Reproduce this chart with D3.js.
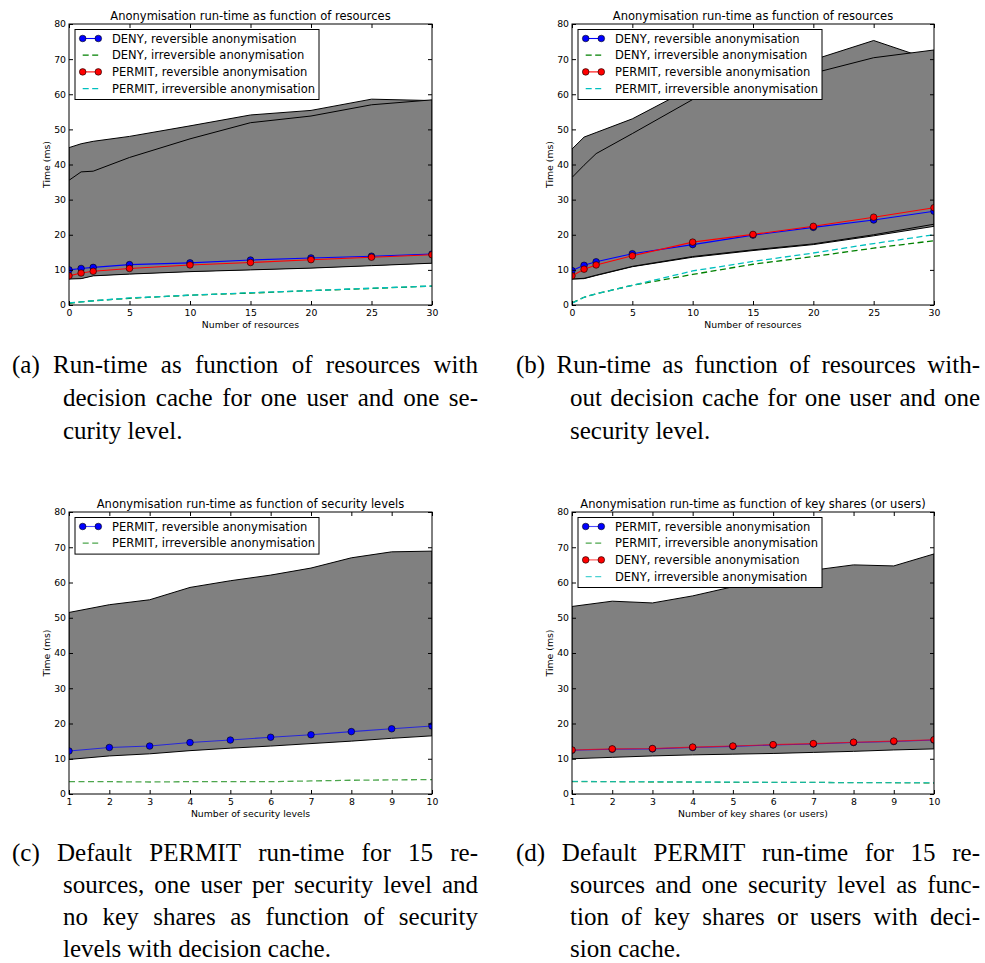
<!DOCTYPE html>
<html lang="en">
<head>
<meta charset="UTF-8">
<title>Anonymisation run-time</title>
<script src="https://d3js.org/d3.v7.min.js"></script>
<style>
  body { margin: 0; background: #fff; }
  svg { display: block; background: #fff; }
</style>
</head>
<body>
<svg id="fig" width="985" height="963"></svg>
<script>
// x values and ticks
const resources = [0, 1, 2, 5, 10, 15, 20, 25, 30];
const levels = [1, 2, 3, 4, 5, 6, 7, 8, 9, 10];
const resTicks = [0, 5, 10, 15, 20, 25, 30];
const levelTicks = [1, 2, 3, 4, 5, 6, 7, 8, 9, 10];
const yTicks = [0, 10, 20, 30, 40, 50, 60, 70, 80];

// (a) with decision cache
const aDenyRev = [10.0, 10.4, 10.7, 11.5, 12.0, 12.8, 13.4, 13.9, 14.5];
const aDenyIrr = [0.5, 0.9, 1.2, 1.9, 2.8, 3.4, 4.1, 4.7, 5.4];
const aPermitRev = [8.3, 9.1, 9.6, 10.4, 11.4, 12.1, 12.9, 13.6, 14.3];
const aPermitIrr = [0.6, 0.9, 1.2, 2.0, 2.8, 3.5, 4.1, 4.8, 5.4];
const aBand1Low = [7.5, 7.6, 8.4, 8.9, 9.6, 10.1, 10.6, 11.3, 12.0];
const aBand1High = [44.8, 45.9, 46.6, 48.0, 51.0, 54.1, 55.4, 58.6, 58.2];
const aBand2Low = [7.4, 7.5, 8.3, 8.8, 9.5, 10.0, 10.5, 11.2, 11.9];
const aBand2High = [35.5, 37.9, 38.1, 42.0, 47.3, 51.9, 53.8, 57.0, 58.4];

// (b) without decision cache
const bDenyRev = [9.8, 11.3, 12.3, 14.6, 17.2, 19.9, 22.1, 24.2, 26.7];
const bDenyIrr = [0.6, 2.2, 3.2, 5.6, 8.7, 11.6, 13.8, 16.2, 18.3];
const bPermitRev = [8.3, 10.2, 11.4, 14.0, 17.9, 20.1, 22.4, 25.0, 27.7];
const bPermitIrr = [0.5, 2.2, 3.2, 5.6, 9.7, 12.4, 14.8, 17.5, 20.0];
const bBand1Low = [7.4, 7.5, 8.4, 10.9, 13.6, 15.5, 17.2, 19.7, 22.4];
const bBand1High = [44.4, 47.8, 49.1, 53.0, 62.0, 66.0, 69.8, 75.3, 69.5];
const bBand2Low = [7.4, 7.6, 8.5, 11.0, 13.8, 15.7, 17.4, 20.0, 23.0];
const bBand2High = [36.3, 39.8, 43.1, 48.8, 58.5, 62.5, 66.0, 70.4, 72.6];

// (c) security levels
const cPermitRev = [12.2, 13.2, 13.6, 14.6, 15.3, 16.1, 16.8, 17.7, 18.5, 19.3];
const cPermitIrr = [3.5, 3.5, 3.4, 3.5, 3.5, 3.5, 3.7, 3.9, 4.0, 4.1];
const cBandLow = [9.8, 10.8, 11.4, 12.3, 13.0, 13.6, 14.3, 15.0, 15.8, 16.5];
const cBandHigh = [51.5, 53.7, 55.1, 58.6, 60.5, 62.1, 64.1, 67.0, 68.7, 68.9];

// (d) key shares
const dPermitRev = [12.4, 12.7, 12.8, 13.2, 13.5, 13.9, 14.2, 14.6, 14.9, 15.3];
const dPermitIrr = [3.5, 3.5, 3.4, 3.4, 3.3, 3.3, 3.3, 3.2, 3.2, 3.1];
const dDenyRev = [12.5, 12.8, 12.9, 13.3, 13.6, 14.0, 14.3, 14.7, 15.0, 15.4];
const dDenyIrr = [3.6, 3.5, 3.5, 3.4, 3.4, 3.3, 3.3, 3.2, 3.2, 3.2];
const dBandLow = [10.0, 10.4, 10.8, 11.1, 11.3, 11.5, 11.8, 12.1, 12.5, 12.8];
const dBandHigh = [53.2, 54.7, 54.2, 56.2, 58.8, 61.0, 63.5, 65.0, 64.7, 68.1];

// captions
const capA = ['(a) Run-time as function of resources with', 'decision cache for one user and one se-', 'curity level.'];
const capB = ['(b) Run-time as function of resources with-', 'out decision cache for one user and one', 'security level.'];
const capC = ['(c) Default PERMIT run-time for 15 re-', 'sources, one user per security level and', 'no key shares as function of security', 'levels with decision cache.'];
const capD = ['(d) Default PERMIT run-time for 15 re-', 'sources and one security level as func-', 'tion of key shares or users with deci-', 'sion cache.'];

const sans = '"DejaVu Sans", sans-serif';
const serif = '"Liberation Serif", "Times New Roman", serif';
const BLUE = '#0000ff', RED = '#ff0000', GREEN = '#008000', CYAN = '#00bfbf';

const svg = d3.select('#fig');

function panel(cfg) {
    const g = svg.append('g');
    const x = d3.scaleLinear().domain(cfg.xDomain).range([cfg.left, cfg.right]);
    const y = d3.scaleLinear().domain([0, 80]).range([cfg.bottom, cfg.top]);

    svg.append('clipPath').attr('id', 'clip-' + cfg.id)
        .append('rect')
        .attr('x', cfg.left).attr('y', cfg.top)
        .attr('width', cfg.right - cfg.left).attr('height', cfg.bottom - cfg.top);

    const plot = g.append('g').attr('clip-path', `url(#clip-${cfg.id})`);

    // grey envelopes with black edges
    cfg.bands.forEach(b => {
        const area = d3.area()
            .x((d, i) => x(cfg.xs[i]))
            .y0((d, i) => y(b.low[i]))
            .y1((d, i) => y(b.high[i]));
        plot.append('path').datum(b.low)
            .attr('d', area)
            .attr('fill', '#808080')
            .attr('stroke', '#000')
            .attr('stroke-width', 1);
    });

    // series
    cfg.series.forEach(s => {
        const line = d3.line().x((d, i) => x(cfg.xs[i])).y(d => y(d));
        plot.append('path').datum(s.values)
            .attr('d', line)
            .attr('fill', 'none')
            .attr('stroke', s.color)
            .attr('stroke-width', s.dash ? 1.3 : 1.1)
            .attr('stroke-dasharray', s.dash ? '6,3.5' : null)
            .attr('stroke-opacity', cfg.alpha);
        if (s.marker) {
            plot.selectAll(null).data(s.values).enter().append('circle')
                .attr('cx', (d, i) => x(cfg.xs[i]))
                .attr('cy', d => y(d))
                .attr('r', 3.3)
                .attr('fill', s.color)
                .attr('stroke', '#000')
                .attr('stroke-width', 0.6);
        }
    });

    // frame
    g.append('rect')
        .attr('x', cfg.left).attr('y', cfg.top)
        .attr('width', cfg.right - cfg.left).attr('height', cfg.bottom - cfg.top)
        .attr('fill', 'none').attr('stroke', '#000').attr('stroke-width', 1);

    // axes, ticks pointing inwards on all four sides
    const styleAxis = sel => {
        sel.select('.domain').remove();
        sel.selectAll('.tick line').attr('stroke', '#000');
        sel.selectAll('text').attr('font-family', sans).attr('font-size', 9.3).attr('fill', '#000');
    };
    g.append('g').attr('transform', `translate(0,${cfg.bottom})`)
        .call(d3.axisBottom(x).tickValues(cfg.xTicks).tickSizeInner(-4).tickSizeOuter(0).tickPadding(4.7))
        .call(styleAxis);
    g.append('g').attr('transform', `translate(0,${cfg.top})`)
        .call(d3.axisTop(x).tickValues(cfg.xTicks).tickSizeInner(-4).tickSizeOuter(0).tickFormat(''))
        .call(styleAxis);
    g.append('g').attr('transform', `translate(${cfg.left},0)`)
        .call(d3.axisLeft(y).tickValues(yTicks).tickSizeInner(-4).tickSizeOuter(0).tickPadding(3))
        .call(styleAxis);
    g.append('g').attr('transform', `translate(${cfg.right},0)`)
        .call(d3.axisRight(y).tickValues(yTicks).tickSizeInner(-4).tickSizeOuter(0).tickFormat(''))
        .call(styleAxis);

    // title and axis labels
    g.append('text')
        .attr('x', (cfg.left + cfg.right) / 2).attr('y', cfg.top - 4.5)
        .attr('text-anchor', 'middle')
        .attr('font-family', sans).attr('font-size', 11.5)
        .text(cfg.title);
    g.append('text')
        .attr('x', (cfg.left + cfg.right) / 2).attr('y', cfg.bottom + 22.5)
        .attr('text-anchor', 'middle')
        .attr('font-family', sans).attr('font-size', 9.3)
        .text(cfg.xlabel);
    g.append('text')
        .attr('transform', `translate(${cfg.left - 19},${(cfg.top + cfg.bottom) / 2}) rotate(-90)`)
        .attr('text-anchor', 'middle')
        .attr('font-family', sans).attr('font-size', 9.3)
        .text('Time (ms)');

    // legend
    const lx = cfg.left + 6, ly = cfg.top + 5.5;
    const n = cfg.series.length;
    const leg = g.append('g');
    leg.append('rect')
        .attr('x', lx).attr('y', ly)
        .attr('width', 244).attr('height', 9 + (n - 1) * 16.7 + 10.9)
        .attr('fill', '#fff').attr('stroke', '#000').attr('stroke-width', 1);
    cfg.series.forEach((s, i) => {
        const ry = ly + 9 + i * 16.7;
        leg.append('line')
            .attr('x1', lx + 7.7).attr('x2', lx + 23.3)
            .attr('y1', ry).attr('y2', ry)
            .attr('stroke', s.color)
            .attr('stroke-width', s.dash ? 1.3 : 1.1)
            .attr('stroke-dasharray', s.dash ? '6,3.5' : null)
            .attr('stroke-opacity', cfg.alpha);
        if (s.marker) {
            [lx + 7.7, lx + 23.3].forEach(cx => {
                leg.append('circle').attr('cx', cx).attr('cy', ry).attr('r', 3.3)
                    .attr('fill', s.color).attr('stroke', '#000').attr('stroke-width', 0.6);
            });
        }
        leg.append('text')
            .attr('x', lx + 37).attr('y', ry + 4)
            .attr('font-family', sans).attr('font-size', 11.5)
            .text(s.label);
    });
}

panel({
    id: 'a', left: 69, right: 432, top: 24, bottom: 305, alpha: 1,
    xs: resources, xDomain: [0, 30], xTicks: resTicks,
    title: 'Anonymisation run-time as function of resources',
    xlabel: 'Number of resources',
    bands: [{ low: aBand1Low, high: aBand1High }, { low: aBand2Low, high: aBand2High }],
    series: [
        { label: 'DENY, reversible anonymisation', values: aDenyRev, color: BLUE, marker: true },
        { label: 'DENY, irreversible anonymisation', values: aDenyIrr, color: GREEN, dash: true },
        { label: 'PERMIT, reversible anonymisation', values: aPermitRev, color: RED, marker: true },
        { label: 'PERMIT, irreversible anonymisation', values: aPermitIrr, color: CYAN, dash: true }
    ]
});

panel({
    id: 'b', left: 572, right: 934, top: 24, bottom: 305, alpha: 1,
    xs: resources, xDomain: [0, 30], xTicks: resTicks,
    title: 'Anonymisation run-time as function of resources',
    xlabel: 'Number of resources',
    bands: [{ low: bBand1Low, high: bBand1High }, { low: bBand2Low, high: bBand2High }],
    series: [
        { label: 'DENY, reversible anonymisation', values: bDenyRev, color: BLUE, marker: true },
        { label: 'DENY, irreversible anonymisation', values: bDenyIrr, color: GREEN, dash: true },
        { label: 'PERMIT, reversible anonymisation', values: bPermitRev, color: RED, marker: true },
        { label: 'PERMIT, irreversible anonymisation', values: bPermitIrr, color: CYAN, dash: true }
    ]
});

panel({
    id: 'c', left: 69, right: 432, top: 512, bottom: 794, alpha: 0.7,
    xs: levels, xDomain: [1, 10], xTicks: levelTicks,
    title: 'Anonymisation run-time as function of security levels',
    xlabel: 'Number of security levels',
    bands: [{ low: cBandLow, high: cBandHigh }],
    series: [
        { label: 'PERMIT, reversible anonymisation', values: cPermitRev, color: BLUE, marker: true },
        { label: 'PERMIT, irreversible anonymisation', values: cPermitIrr, color: GREEN, dash: true }
    ]
});

panel({
    id: 'd', left: 572, right: 934, top: 512, bottom: 794, alpha: 0.7,
    xs: levels, xDomain: [1, 10], xTicks: levelTicks,
    title: 'Anonymisation run-time as function of key shares (or users)',
    xlabel: 'Number of key shares (or users)',
    bands: [{ low: dBandLow, high: dBandHigh }],
    series: [
        { label: 'PERMIT, reversible anonymisation', values: dPermitRev, color: BLUE, marker: true },
        { label: 'PERMIT, irreversible anonymisation', values: dPermitIrr, color: GREEN, dash: true },
        { label: 'DENY, reversible anonymisation', values: dDenyRev, color: RED, marker: true },
        { label: 'DENY, irreversible anonymisation', values: dDenyIrr, color: CYAN, dash: true }
    ]
});

// captions: justified lines, word gaps stretched to fill the column
function caption(lines, x0, indent, x1, y0, lh) {
    const g = svg.append('g').attr('font-family', serif).attr('font-size', 25).attr('fill', '#000');
    lines.forEach((line, i) => {
        const start = i === 0 ? x0 : indent;
        const y = y0 + i * lh;
        const words = line.split(' ');
        const last = i === lines.length - 1;
        const t = g.append('text').attr('y', y);
        if (last) {
            t.attr('x', start).text(line);
            return;
        }
        const widths = words.map(w => {
            const tmp = g.append('text').text(w);
            const wd = tmp.node().getComputedTextLength();
            tmp.remove();
            return wd;
        });
        const gap = (x1 - start - d3.sum(widths)) / (words.length - 1);
        let cx = start;
        words.forEach((w, k) => {
            t.append('tspan').attr('x', cx).text(w);
            cx += widths[k] + gap;
        });
    });
}

caption(capA, 12, 63, 478, 373, 33);
caption(capB, 516, 570, 980, 373, 33);
caption(capC, 12, 63, 478, 861, 32);
caption(capD, 516, 570, 980, 861, 32);
</script>
</body>
</html>
